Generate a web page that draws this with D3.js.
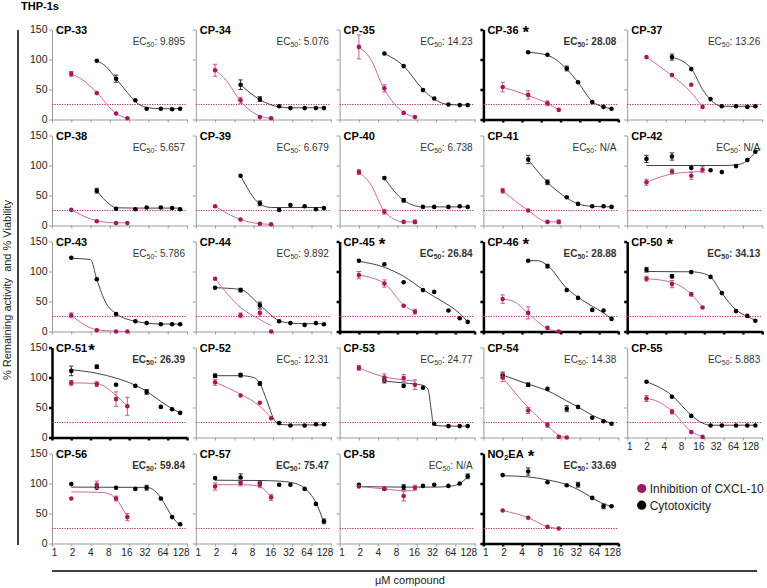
<!DOCTYPE html>
<html>
<head>
<meta charset="utf-8">
<script src="https://cdn.jsdelivr.net/npm/d3@7"></script>
<style>
  body { margin: 0; background: #fff; }
  svg { font-family: "Liberation Sans", Arial, Helvetica, sans-serif; }
</style>
</head>
<body>
<svg id="chart" width="767" height="588"></svg>
<script>
// Panels
const panelNames = [
  "CP-33", "CP-34", "CP-35", "CP-36", "CP-37",
  "CP-38", "CP-39", "CP-40", "CP-41", "CP-42",
  "CP-43", "CP-44", "CP-45", "CP-46", "CP-50",
  "CP-51", "CP-52", "CP-53", "CP-54", "CP-55",
  "CP-56", "CP-57", "CP-58", "NO2EA"
];
const ec50Labels = [
  "9.895", "5.076", "14.23", "28.08", "13.26",
  "5.657", "6.679", "6.738", "N/A", "N/A",
  "5.786", "9.892", "26.84", "28.88", "34.13",
  "26.39", "12.31", "24.77", "14.38", "5.883",
  "59.84", "75.47", "N/A", "33.69"
];
const starredPanels = ["CP-36", "CP-45", "CP-46", "CP-50", "CP-51", "NO2EA"];
const boldEc50Panels = ["CP-36", "CP-45", "CP-46", "CP-50", "CP-51", "NO2EA", "CP-56", "CP-57"];

const xTicks = [1, 2, 4, 8, 16, 32, 64, 128];
const yTicks = [0, 50, 100, 150];
const cutoffLevel = 25;
const legendLabels = ["Inhibition of CXCL-10", "Cytotoxicity"];

// [dose µM, % value, error] -- inhibition of CXCL-10
const inhibPoints = [
  [[2, 76, 4], [5, 44, 0], [10, 10, 0], [15, 2, 0]],
  [[2, 82, 10], [5, 32, 5], [10, 4, 0], [15, 2, 0]],
  [[2, 121, 20], [5, 52, 6], [10, 11, 0], [15, 4, 0]],
  [[2, 54, 8], [5, 41, 7], [10, 27, 4], [15, 16, 0]],
  [[2, 104, 0], [5, 74, 0], [10, 58, 0], [15, 21, 0]],
  [[2, 26, 0], [5, 7, 0], [10, 4, 0], [15, 4, 0]],
  [[2, 32, 0], [5, 10, 0], [10, 3, 0], [15, 2, 0]],
  [[2, 89, 4], [5, 23, 4], [10, 6, 0], [15, 6, 3]],
  [[2, 58, 4], [5, 25, 0], [10, 6, 0], [15, 6, 3]],
  [[2, 72, 5], [5, 90, 4], [10, 83, 6], [15, 93, 5]],
  [[2, 27, 4], [5, 2, 0], [10, 0, 0], [15, 0, 0]],
  [[2, 88, 0], [5, 27, 4], [10, 31, 6], [15, 0, 0]],
  [[2, 94, 6], [5, 80, 6], [10, 43, 0], [15, 33, 4]],
  [[2, 54, 7], [5, 31, 10], [10, 6, 0], [15, 0, 0]],
  [[2, 88, 4], [5, 79, 6], [10, 62, 3], [15, 40, 0]],
  [[2, 91, 4], [5, 89, 4], [10, 64, 12], [15, 52, 15]],
  [[2, 92, 5], [5, 70, 0], [10, 58, 0], [15, 32, 0]],
  [[2, 116, 4], [5, 100, 6], [10, 99, 6], [15, 88, 8]],
  [[2, 100, 7], [5, 45, 5], [10, 21, 4], [15, 1, 0], [20, 0, 0]],
  [[2, 65, 5], [5, 43, 4], [10, 9, 0], [15, 1, 0]],
  [[2, 75, 0], [5, 98, 6], [10, 75, 4], [15, 44, 6]],
  [[2, 95, 6], [5, 101, 5], [10, 98, 5], [15, 77, 5]],
  [[2, 95, 0], [5, 91, 0], [10, 79, 8], [15, 93, 4]],
  [[2, 55, 0], [5, 43, 0], [10, 28, 0], [15, 25, 0]]
];

// fitted curves as drawn, [dose, %]
const inhibFits = [
  [[2, 76], [3, 66], [5, 45], [10, 10], [15, 2]],
  [[2, 82], [3, 65], [5, 30], [10, 6], [15, 2]],
  [[2, 121], [3, 102], [5, 50], [10, 12], [15, 4]],
  [[2, 54], [5, 40], [10, 27], [15, 16]],
  [[2, 104], [5, 73], [10, 45], [15, 21]],
  [[2, 26], [5, 8], [10, 4.5], [15, 4.5]],
  [[2, 32], [5, 10], [10, 3], [15, 2]],
  [[2, 89], [3, 70], [5, 24], [10, 6], [15, 6]],
  [[2, 58], [5, 25], [10, 6], [15, 6]],
  [[2, 72], [5, 86], [10, 89], [15, 90]],
  [[2, 27], [5, 3], [10, 0.5], [15, 0]],
  [[2, 88], [5, 40], [10, 20], [15, 10]],
  [[2, 94], [5, 80], [10, 44], [15, 33]],
  [[2, 54], [3, 50], [5, 30], [10, 5], [15, 0]],
  [[2, 88], [5, 82], [10, 62], [15, 40]],
  [[2, 91], [5, 90], [10, 70], [15, 52]],
  [[2, 92], [5, 72], [10, 52], [15, 33]],
  [[2, 116], [5, 101], [10, 96], [15, 94]],
  [[2, 100], [5, 50], [10, 20], [15, 4], [20, 0]],
  [[2, 65], [3, 60], [5, 44], [10, 10], [15, 1]],
  [[2, 86], [6, 85], [8, 82], [10, 74], [15, 44]],
  [[2, 98], [5, 98], [8, 97], [10, 95], [15, 77]],
  [[2, 95], [5, 91], [10, 88], [15, 88]],
  [[2, 55], [5, 43], [10, 28], [15, 25]]
];

// [dose µM, % value, error] -- cytotoxicity (viability)
const cytoPoints = [
  [[5, 98, 0], [10, 68, 6], [20, 32, 0], [30, 18, 0], [50, 18, 0], [75, 17, 0], [100, 18, 0]],
  [[5, 58, 8], [10, 34, 4], [20, 22, 0], [30, 19, 0], [50, 19, 0], [75, 19, 0], [100, 19, 0]],
  [[5, 110, 0], [10, 89, 0], [20, 49, 0], [30, 35, 0], [50, 25, 0], [75, 24, 0], [100, 24, 0]],
  [[5, 112, 0], [10, 108, 0], [20, 85, 4], [30, 62, 0], [50, 29, 0], [75, 21, 0], [100, 18, 0]],
  [[5, 104, 5], [10, 84, 0], [20, 34, 0], [30, 22, 0], [50, 22, 0], [75, 21, 0], [100, 22, 0]],
  [[5, 58, 4], [10, 28, 0], [20, 27, 0], [30, 30, 0], [50, 30, 0], [75, 29, 0], [100, 27, 0]],
  [[5, 83, 0], [10, 37, 4], [20, 26, 0], [30, 34, 0], [50, 32, 0], [75, 27, 0], [100, 29, 0]],
  [[5, 79, 0], [10, 42, 3], [20, 31, 0], [30, 31, 0], [50, 31, 0], [75, 32, 0], [100, 31, 0]],
  [[5, 110, 7], [10, 72, 4], [20, 47, 0], [30, 36, 0], [50, 32, 0], [75, 32, 0], [100, 31, 0]],
  [[2, 111, 6], [5, 115, 6], [10, 96, 0], [20, 92, 0], [30, 89, 0], [50, 99, 0], [75, 109, 0], [100, 123, 0]],
  [[2, 123, 0], [5, 87, 0], [10, 29, 0], [20, 17, 0], [30, 14, 0], [50, 12, 0], [75, 12, 0], [100, 12, 0]],
  [[2, 73, 0], [5, 69, 3], [10, 44, 5], [20, 17, 0], [30, 14, 0], [50, 11, 0], [75, 14, 0], [100, 12, 0]],
  [[2, 118, 0], [5, 112, 0], [10, 82, 0], [20, 69, 0], [30, 66, 0], [50, 35, 0], [75, 22, 0], [100, 16, 0]],
  [[5, 118, 0], [10, 109, 3], [20, 69, 0], [30, 56, 0], [50, 36, 0], [75, 35, 0], [100, 21, 0]],
  [[2, 103, 4], [5, 92, 3], [10, 99, 0], [20, 91, 0], [30, 64, 0], [50, 34, 0], [75, 26, 0], [100, 18, 0]],
  [[2, 111, 8], [5, 118, 3], [10, 88, 0], [20, 86, 0], [30, 76, 4], [50, 51, 0], [75, 47, 0], [100, 41, 0]],
  [[2, 103, 3], [5, 104, 3], [10, 90, 3], [20, 24, 0], [30, 20, 0], [50, 20, 0], [75, 22, 0], [100, 22, 0]],
  [[5, 95, 4], [10, 86, 0], [20, 83, 0], [30, 23, 0], [50, 19, 0], [75, 19, 0], [100, 19, 0]],
  [[2, 104, 5], [5, 88, 3], [10, 81, 0], [20, 48, 5], [30, 51, 0], [50, 33, 0], [75, 27, 0], [100, 23, 0]],
  [[2, 93, 0], [5, 68, 0], [10, 36, 0], [20, 20, 0], [30, 20, 0], [50, 20, 0], [75, 20, 0], [100, 20, 0]],
  [[2, 99, 0], [5, 93, 0], [10, 93, 0], [20, 91, 0], [30, 93, 4], [50, 75, 0], [75, 44, 0], [100, 32, 0]],
  [[2, 109, 0], [5, 110, 6], [10, 101, 0], [20, 98, 0], [30, 98, 0], [50, 91, 0], [75, 66, 0], [100, 37, 4]],
  [[2, 98, 0], [5, 91, 0], [10, 94, 4], [20, 96, 0], [30, 98, 0], [50, 96, 0], [75, 100, 0], [100, 112, 4]],
  [[2, 114, 0], [5, 120, 6], [10, 102, 0], [20, 97, 0], [30, 98, 4], [50, 76, 0], [75, 62, 4], [100, 62, 0]]
];

const cytoFits = [
  [[5, 98], [7, 88], [10, 68], [15, 45], [20, 30], [30, 20], [50, 18], [100, 18]],
  [[5, 58], [10, 33], [20, 21], [30, 19.5], [100, 19.5]],
  [[5, 110], [10, 89], [20, 50], [30, 34], [50, 25], [100, 24]],
  [[5, 112], [10, 107], [20, 84], [30, 62], [50, 30], [75, 21], [100, 18]],
  [[5, 104], [10, 85], [15, 50], [20, 33], [30, 22], [100, 22]],
  [[5, 58], [8, 35], [10, 29.5], [20, 29], [100, 29]],
  [[5, 83], [10, 36], [15, 30], [20, 30], [100, 30]],
  [[5, 79], [10, 42], [20, 31], [100, 31]],
  [[5, 110], [10, 72], [20, 46], [30, 36], [50, 32], [100, 31]],
  [[2, 100], [30, 100], [50, 101], [75, 108], [100, 122], [120, 128]],
  [[2, 122], [4, 120], [5, 87], [7, 47], [10, 30], [20, 17], [30, 14], [50, 12.5], [100, 12.5]],
  [[2, 73], [5, 70], [10, 44], [20, 18], [30, 14], [50, 13], [100, 13]],
  [[2, 117], [5, 107], [10, 92], [20, 70], [30, 58], [50, 44], [75, 30], [100, 16]],
  [[5, 118], [7, 118], [10, 110], [20, 72], [30, 57], [50, 42], [75, 31], [100, 21]],
  [[2, 100], [10, 99.5], [15, 97], [20, 91], [30, 64], [50, 36], [75, 25], [100, 19]],
  [[2, 113], [5, 107], [10, 99], [20, 87], [30, 77], [50, 60], [75, 48], [100, 41]],
  [[2, 103], [5, 103], [8, 100], [10, 90], [13, 60], [17, 28], [20, 22], [30, 21], [100, 21]],
  [[5, 94], [10, 91], [20, 87], [24, 80], [27, 45], [29, 23], [32, 20], [50, 19], [100, 19]],
  [[2, 104], [5, 89], [10, 78], [20, 61], [30, 51], [50, 37], [75, 29], [100, 23]],
  [[2, 93], [5, 70], [10, 37], [15, 24], [20, 20.5], [100, 20.5]],
  [[2, 94], [30, 93.5], [40, 88], [50, 76], [75, 45], [100, 30]],
  [[2, 105.5], [10, 105], [20, 104], [30, 102], [50, 92], [75, 68], [100, 35]],
  [[2, 95], [10, 94], [30, 94], [50, 95], [75, 100], [100, 111]],
  [[2, 113], [5, 111], [10, 106], [20, 98], [30, 90], [50, 76], [75, 66], [100, 62]]
];

// Layout
const svg = d3.select("#chart");
const pw = 135, ph = 90;
const left0 = 52, top0 = 29.5;
const colStep = 143.8, rowStep = 106;
const magenta = "#a3195b";
const magentaLine = "#d2679a";
const magentaErr = "#c75b8d";

const x = d3.scaleLog().base(2).domain([1, 128]).range([0, pw]);
const y = d3.scaleLinear().domain([0, 150]).range([ph, 0]);
const curve = d3.line()
  .x(d => x(d[0]))
  .y(d => y(d[1]))
  .curve(d3.curveMonotoneX);

function drawSeries(g, points, fit, color, lineColor, errColor) {
  g.append("path")
    .attr("d", curve(fit))
    .attr("fill", "none")
    .attr("stroke", lineColor)
    .attr("stroke-width", 1);

  const withErr = points.filter(d => d[2] > 0);
  const eb = g.append("g").attr("stroke", errColor).attr("stroke-width", 1);
  eb.selectAll(".v").data(withErr).join("line")
    .attr("x1", d => x(d[0])).attr("x2", d => x(d[0]))
    .attr("y1", d => y(d[1] - d[2])).attr("y2", d => y(d[1] + d[2]));
  eb.selectAll(".t").data(withErr.flatMap(d => [d[1] - d[2], d[1] + d[2]].map(v => [d[0], v]))).join("line")
    .attr("x1", d => x(d[0]) - 2.2).attr("x2", d => x(d[0]) + 2.2)
    .attr("y1", d => y(d[1])).attr("y2", d => y(d[1]));

  g.append("g").selectAll("circle").data(points).join("circle")
    .attr("cx", d => x(d[0]))
    .attr("cy", d => y(d[1]))
    .attr("r", 2.3)
    .attr("fill", color);
}

panelNames.forEach((name, i) => {
  const col = i % 5, row = Math.floor(i / 5);
  const star = starredPanels.includes(name);
  const showX = i + 5 >= panelNames.length;
  const g = svg.append("g")
    .attr("transform", `translate(${left0 + col * colStep},${top0 + row * rowStep})`);

  const axisColor = star ? "#000" : "#9b9b9b";
  const axisWidth = star ? 2.5 : 1;

  const yAxis = g.append("g")
    .call(d3.axisLeft(y).tickValues(yTicks).tickSize(3).tickSizeOuter(0).tickPadding(1.5)
      .tickFormat(col === 0 ? d3.format("d") : ""));
  const xAxis = g.append("g")
    .attr("transform", `translate(0,${ph})`)
    .call(d3.axisBottom(x).tickValues(xTicks).tickSize(3).tickSizeOuter(0).tickPadding(2)
      .tickFormat(showX ? d3.format("d") : ""));
  [yAxis, xAxis].forEach(a => {
    a.attr("font-family", null).attr("font-size", 10.5);
    a.selectAll("path, line").attr("stroke", axisColor).attr("stroke-width", axisWidth);
    a.selectAll("text").attr("fill", "#222");
  });
  // tick labels sit a little squeezed together, as in the figure
  const step = col === 4 ? 17.3 : 18.1;
  xAxis.attr("font-size", 10)
    .selectAll(".tick text")
    .attr("x", d => 2 + Math.log2(d) * step - x(d));

  // 25% cut-off line
  g.append("line")
    .attr("x1", x(1)).attr("x2", x(128))
    .attr("y1", y(cutoffLevel)).attr("y2", y(cutoffLevel))
    .attr("stroke", "#b8336f")
    .attr("stroke-width", 1)
    .attr("stroke-dasharray", "1.3,1.2");

  drawSeries(g, cytoPoints[i], cytoFits[i], "#000", "#444", "#333");
  drawSeries(g, inhibPoints[i], inhibFits[i], magenta, magentaLine, magentaErr);

  // panel title
  const title = g.append("text")
    .attr("x", 4).attr("y", 4)
    .attr("font-size", 11)
    .attr("font-weight", "bold")
    .attr("fill", "#000");
  if (name === "NO2EA") {
    title.append("tspan").text("NO");
    title.append("tspan").attr("font-size", 8).attr("dy", 2.5).text("2");
    title.append("tspan").attr("dy", -2.5).text("EA");
  } else {
    title.append("tspan").text(name);
  }
  if (star) {
    title.append("tspan")
      .attr("dx", name === "CP-51" ? 1 : 4)
      .attr("dy", 4.5)
      .attr("font-size", 17)
      .text("*");
  }

  // EC50 label
  const ec = g.append("text")
    .attr("x", 133).attr("y", 15.7)
    .attr("text-anchor", "end")
    .attr("font-size", 10)
    .attr("font-weight", boldEc50Panels.includes(name) ? "bold" : "normal")
    .attr("fill", "#333");
  ec.append("tspan").text("EC");
  ec.append("tspan").attr("font-size", 7).attr("dy", 2).text("50");
  ec.append("tspan").attr("dy", -2).text(": " + ec50Labels[i]);
});

// Legend in the empty last cell
const legend = svg.append("g")
  .attr("transform", `translate(${left0 + 4 * colStep + 14.5},${top0 + 4 * rowStep + 35})`);
[magenta, "#000"].forEach((c, k) => {
  legend.append("circle").attr("cx", 0).attr("cy", k * 16.7).attr("r", 4.6).attr("fill", c);
  legend.append("text")
    .attr("x", 8).attr("y", k * 16.7 + 4.3)
    .attr("font-size", 12)
    .attr("fill", "#222")
    .text(legendLabels[k]);
});

// Title and shared axis labels
svg.append("text")
  .attr("x", 21).attr("y", 10)
  .attr("font-size", 11)
  .attr("font-weight", "bold")
  .text("THP-1s");

svg.append("line")
  .attr("x1", 18).attr("x2", 18).attr("y1", 30).attr("y2", 545)
  .attr("stroke", "#000").attr("stroke-width", 1.5);

svg.append("text")
  .attr("transform", "translate(11,290) rotate(-90)")
  .attr("text-anchor", "middle")
  .attr("font-size", 11)
  .attr("fill", "#222")
  .style("white-space", "pre")
  .text("% Remaining activity  and % Viability");

svg.append("line")
  .attr("x1", 52).attr("x2", 757).attr("y1", 571).attr("y2", 571)
  .attr("stroke", "#000").attr("stroke-width", 1.5);

svg.append("text")
  .attr("x", 410).attr("y", 584)
  .attr("text-anchor", "middle")
  .attr("font-size", 11)
  .attr("fill", "#222")
  .text("µM compound");
</script>
</body>
</html>
